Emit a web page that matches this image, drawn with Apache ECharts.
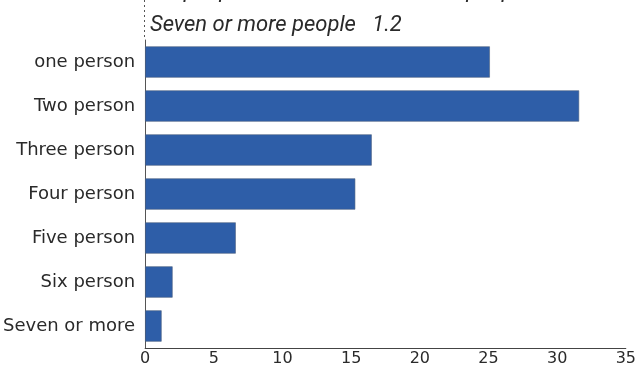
<!DOCTYPE html>
<html><head><meta charset="utf-8">
<script src="https://cdn.jsdelivr.net/npm/echarts@6/dist/echarts.min.js"></script>
<style>html,body{margin:0;padding:0;background:#fff}#c{width:639px;height:367px}</style>
</head><body><div id="c"></div>
<script>
const categories = ["one person","Two person","Three person","Four person","Five person","Six person","Seven or more"];
const values = [25.1, 31.6, 16.5, 15.3, 6.6, 2.0, 1.2];
const xTicks = [0,5,10,15,20,25,30,35];
const noteText = "Seven or more people   1.2";
const topText = "Six people   2.0           Six or more people";

const chart = echarts.init(document.getElementById('c'), null, {renderer:'canvas'});
chart.setOption({
  animation:false,
  grid:{left:145, right:4, top:40, bottom:19, containLabel:false},
  xAxis:{type:'value', min:xTicks[0], max:xTicks[xTicks.length-1], interval:5,
    axisLine:{show:true, lineStyle:{color:'#444', width:1}},
    axisTick:{show:false}, splitLine:{show:false},
    axisLabel:{color:'#2a2a2a', fontSize:16, fontFamily:'DejaVu Sans', margin:3}},
  yAxis:{type:'category', data:categories, inverse:true,
    axisLine:{show:true, lineStyle:{color:'#555', width:1}},
    axisTick:{show:false},
    axisLabel:{color:'#2a2a2a', fontSize:18, fontFamily:'DejaVu Sans', margin:10}},
  series:[{type:'bar', data:values, barCategoryGap:'29%',
    itemStyle:{color:'#2e5ea8', borderColor:'#4b5f80', borderWidth:0.6}}],
  graphic:[
    {type:'line', shape:{x1:144.5,y1:0,x2:144.5,y2:40}, style:{stroke:'#555', lineWidth:1, lineDash:[2,3]}},
    {type:'text', left:150, top:14, style:{text:noteText, fontSize:22, fontStyle:'italic', fontFamily:'Roboto', fill:'#2a2a2a'}},
    {type:'text', left:150, top:-20, style:{text:topText, fontSize:22, fontStyle:'italic', fontFamily:'Roboto', fill:'#2a2a2a'}}
  ]
});
</script></body></html>
